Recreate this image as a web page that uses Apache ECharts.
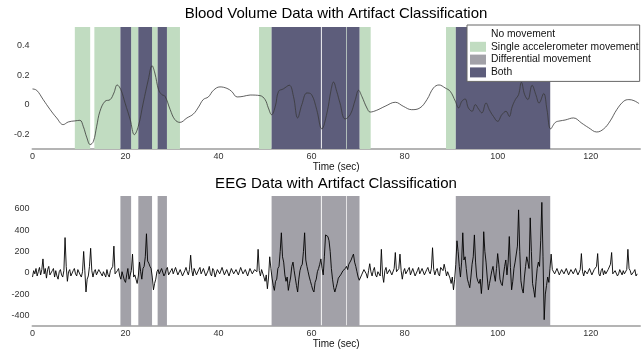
<!DOCTYPE html>
<html>
<head>
<meta charset="utf-8">
<script src="https://cdn.jsdelivr.net/npm/echarts@6/dist/echarts.min.js"></script>
<style>
html,body{margin:0;padding:0;background:#fff;}
#chart{width:644px;height:350px;}
</style>
</head>
<body>
<div id="chart"></div>
<script>
// ---- Data ----
const titleTop = 'Blood Volume Data with Artifact Classification';
const titleBottom = 'EEG Data with Artifact Classification';
const xAxisName = 'Time (sec)';
const xTicks = [0, 20, 40, 60, 80, 100, 120];
const bvTicks = [-0.2, 0, 0.2, 0.4];
const eegTicks = [-400, -200, 0, 200, 400, 600];
const legendNames = ['No movement', 'Single accelerometer movement', 'Differential movement', 'Both'];

// artifact intervals [start, end] in seconds
const singleBands = [[9.1,12.4],[13.3,18.9],[21.2,22.75],[25.7,26.9],[28.9,31.7],[48.7,51.4],[67.45,67.6],[70.3,72.7],[88.9,91.0]];
const diffBands = [[18.9,21.2],[22.75,25.7],[26.9,28.9],[51.4,62.0],[62.2,67.45],[67.6,70.3],[91.0,111.3]];

// blood volume [time, value]
const bloodVolume = [
[0,0.106],[0.9,0.097],[2.3,0.034],[3.8,-0.034],[5.2,-0.09],[6.6,-0.135],[7.7,-0.117],[9.1,-0.11],[10.2,-0.106],[10.9,-0.146],
[11.7,-0.225],[12.4,-0.27],[13.1,-0.248],[13.8,-0.146],[14.5,-0.045],[15.6,0.023],[16.7,0.034],[17.5,0.079],[18.2,0.133],[19.0,0.101],
[19.9,0.011],[21.0,-0.101],[21.9,-0.203],[22.75,-0.146],[23.8,0.011],[24.9,0.169],[25.7,0.263],[26.3,0.214],[27.1,0.101],[27.8,0.068],
[28.5,0.056],[29.6,-0.034],[30.6,-0.101],[31.7,-0.12],[33.2,-0.09],[34.6,-0.063],[35.7,-0.016],[36.7,0.034],[37.8,0.052],[38.9,0.097],
[40.3,0.12],[41.8,0.11],[42.8,0.09],[44.0,0.052],[45.3,0.056],[46.8,0.065],[48.9,0.061],[50.0,0.034],[50.7,-0.022],[51.4,-0.068],
[52.2,-0.011],[52.9,0.09],[53.9,0.106],[55.2,0.131],[56.1,0.056],[57.0,-0.09],[57.9,0.0],[59.0,0.079],[60.0,0.068],[61.1,-0.034],
[62.2,-0.164],[63.3,-0.056],[64.2,0.101],[64.7,0.153],[65.4,0.09],[66.1,0.011],[67.2,-0.097],[68.3,-0.068],[69.4,0.034],[70.1,0.097],
[70.8,0.056],[71.9,-0.023],[72.6,-0.05],[74.0,-0.038],[75.8,-0.011],[78.0,0.016],[79.7,-0.011],[81.5,-0.034],[83.3,-0.022],[84.8,0.034],
[86.2,0.113],[87.4,0.133],[88.7,0.113],[89.8,0.09],[90.9,0.023],[91.6,-0.022],[92.3,0.023],[93.0,0.038],[93.7,-0.022],[94.5,-0.045],
[95.2,0.0],[95.9,-0.03],[96.6,-0.056],[97.5,0.011],[98.2,-0.034],[99.1,-0.08],[100.0,-0.113],[100.9,-0.068],[101.8,-0.045],[102.5,-0.08],
[103.1,-0.016],[103.8,0.034],[104.5,0.068],[105.1,0.151],[105.8,0.068],[106.5,0.034],[107.4,0.131],[108.2,0.068],[108.9,0.011],[109.9,0.075],
[110.6,-0.034],[111.4,-0.164],[112.4,-0.12],[113.4,-0.11],[114.5,-0.104],[116.3,-0.09],[118.1,-0.126],[119.5,-0.155],[121.3,-0.185],[122.8,-0.164],
[124.2,-0.11],[125.6,-0.034],[127.1,0.023],[128.2,0.034],[129.3,0.027],[130.4,0.007]
];

// EEG sampled every 0.25 s starting at 0 s (one group of four values per second)
const eegStart = 0;
const eegStep = 0.25;
const eegValues = [
-40,20,-10,40, -30,10,50,-20, 30,130,-10,40, -50,30,60,-20, -30,20,40,-40,
20,-30,-60,10, 30,-20,-40,20, 330,60,-80,10, 30,-30,-20,20, 40,-10,-30,30,
20,-20,-40,10, 200,20,-180,-60, -30,60,230,20, -40,10,30,-20, -20,30,40,-10,
-30,10,20,-40, 30,-20,-40,20, 10,60,250,-10, -20,20,40,-30, -60,10,20,-70,
-90,-20,40,-60, -70,20,175,-40, -20,-60,-100,-30, 100,10,-60,40, 60,150,366,110,
90,60,40,-40, -160,-100,-60,10, 30,-10,-20,40, 40,-30,-10,30, 50,-20,-30,20,
40,-10,-20,50, 60,-20,-10,30, 30,-30,-40,20, 50,10,-20,30, 165,20,-30,40,
40,-20,-30,30, 50,-10,-20,40, 30,-30,-40,20, 60,-10,-30,40, 20,-40,-50,30,
40,-10,-20,50, 60,-20,-30,30, 30,-30,-40,40, 50,-10,-20,30, 40,-20,-30,50,
60,-10,-10,30, 30,-30,-40,40, 50,-10,-20,30, 40,10,220,20, -30,30,20,-40,
-80,-20,-150,-40, 150,40,-50,-120, -165,-80,-60,40, 60,200,375,150, 100,-20,-80,-40,
-165,-100,-40,60, 100,20,-50,-120, -180,-60,20,60, 80,200,375,120, 60,10,-40,-80,
-120,-160,-180,-90, -60,10,40,80, 130,40,-20,150, 355,370,340,300, 200,40,-60,-140,
-180,-140,-100,-50, -60,-20,-10,20, 20,40,60,30, 80,100,120,150, 175,100,60,10,
-40,-70,-85,-20, -20,30,40,-10, -50,20,85,10, -30,20,50,-20, -40,10,20,-30,
220,-20,-90,20, 50,-10,-20,30, 40,-20,-30,40, 190,10,20,40, 175,20,-60,10,
40,-10,-20,30, 50,-20,-30,40, 30,-30,-40,20, 50,-10,-20,40, 40,-20,-30,30,
50,10,-10,40, 235,30,-20,20, 40,-10,-30,50, 60,20,80,30, -30,10,20,-50,
-100,-40,-160,-60, 80,300,200,60, -40,100,375,120, 150,40,-60,-100, -140,-40,80,150,
355,100,-40,-80, -100,-60,-195,-50, 385,200,100,-40, -160,-100,-40,20, 60,-20,-80,40,
180,80,-60,-100, -120,-20,60,120, -20,100,340,50, -160,-80,40,100, 100,250,590,200,
-75,-150,-190,-40, 60,150,100,40, 515,200,-100,-160, -230,-80,40,100, 60,300,660,150,
-440,-200,-120,-40, -90,40,175,30, 20,-10,-20,40, 40,-20,-30,30, 20,-10,-20,40,
40,-20,-30,30, 30,-10,-20,40, 40,-20,-10,30, 180,10,-30,20, 30,-10,-20,40,
40,-20,-30,30, 20,60,180,-10, -30,20,40,-20, 20,-10,-20,30, 40,80,190,-10,
-20,20,30,-30, -10,30,40,-20, 20,-10,-20,30, 220,40,20,-20, -20,10,30,-30,
-10
];

// ---- Colors / styles ----
const C_SINGLE = '#c1dcc1';
const C_DIFF = '#a2a1a8';
const C_BOTH = '#5d5d7b';
const FONT = 'Liberation Sans, Arial, sans-serif';

const eegData = eegValues.map((v, i) => [eegStart + i * eegStep, v]);

function bandSeries(name, data, color, xi, yi) {
  return {
    name: name,
    type: 'custom',
    xAxisIndex: xi, yAxisIndex: yi,
    itemStyle: { color: color },
    z: 1,
    silent: true,
    encode: { x: [0, 1] },
    data: data,
    renderItem: function (params, api) {
      const cs = params.coordSys;
      const a = api.coord([api.value(0), 0]);
      const b = api.coord([api.value(1), 0]);
      return {
        type: 'rect',
        shape: { x: a[0], y: cs.y, width: b[0] - a[0], height: cs.height },
        style: { fill: color }
      };
    }
  };
}

const chart = echarts.init(document.getElementById('chart'), null, { renderer: 'canvas' });

function xAxisCfg(gi) {
  return {
    type: 'value', gridIndex: gi, min: 0, max: 130.6,
    name: xAxisName, nameLocation: 'middle', nameGap: 10,
    nameTextStyle: { fontFamily: FONT, fontSize: 10, color: '#111' },
    axisLine: { onZero: false, lineStyle: { color: '#b4b4b4', width: 2 } },
    axisTick: { show: false },
    splitLine: { show: false },
    axisLabel: { customValues: xTicks, fontFamily: FONT, fontSize: 9, color: '#333', margin: 3 }
  };
}
function yAxisCfg(gi, min, max, ticks) {
  return {
    type: 'value', gridIndex: gi, min: min, max: max,
    axisLine: { show: false }, axisTick: { show: false }, splitLine: { show: false },
    axisLabel: { customValues: ticks, fontFamily: FONT, fontSize: 9, color: '#333', margin: 3 }
  };
}

chart.setOption({
  animation: false,
  backgroundColor: '#fff',
  title: [
    { text: titleTop, left: 336, top: 6, textAlign: 'center', padding: 0,
      textStyle: { fontFamily: FONT, fontSize: 15, fontWeight: 'normal', color: '#000' } },
    { text: titleBottom, left: 336, top: 176, textAlign: 'center', padding: 0,
      textStyle: { fontFamily: FONT, fontSize: 15, fontWeight: 'normal', color: '#000' } }
  ],
  legend: {
    orient: 'vertical', left: 467, top: 25,
    data: legendNames.map(n => ({ name: n, icon: 'rect' })),
    itemWidth: 16, itemHeight: 10, itemGap: 2.8,
    padding: [4, 1, 4, 3],
    backgroundColor: '#fff', borderColor: '#666', borderWidth: 1,
    textStyle: { fontFamily: FONT, fontSize: 10.3, color: '#111', lineHeight: 10 },
    selectedMode: false,
    z: 10
  },
  grid: [
    { left: 32.5, right: 4, top: 27, height: 122 },
    { left: 32.5, right: 4, top: 196, height: 131.7 }
  ],
  xAxis: [xAxisCfg(0), xAxisCfg(1)],
  yAxis: [yAxisCfg(0, -0.3, 0.525, bvTicks), yAxisCfg(1, -500, 720, eegTicks)],
  series: [
    { name: legendNames[0], type: 'custom', xAxisIndex: 0, yAxisIndex: 0, itemStyle: { color: '#ffffff' },
      data: [], renderItem: function () { return null; } },
    bandSeries(legendNames[1], singleBands, C_SINGLE, 0, 0),
    bandSeries(legendNames[3], diffBands, C_BOTH, 0, 0),
    bandSeries(legendNames[2], diffBands, C_DIFF, 1, 1),
    { name: 'Blood volume', type: 'line', xAxisIndex: 0, yAxisIndex: 0, data: bloodVolume,
      smooth: 0.4, showSymbol: false, z: 3, silent: true,
      lineStyle: { color: '#3a3a3a', width: 0.8 } },
    { name: 'EEG', type: 'line', xAxisIndex: 1, yAxisIndex: 1, data: eegData,
      showSymbol: false, z: 3, silent: true,
      lineStyle: { color: '#000', width: 0.9 } }
  ]
});
</script>
</body>
</html>
